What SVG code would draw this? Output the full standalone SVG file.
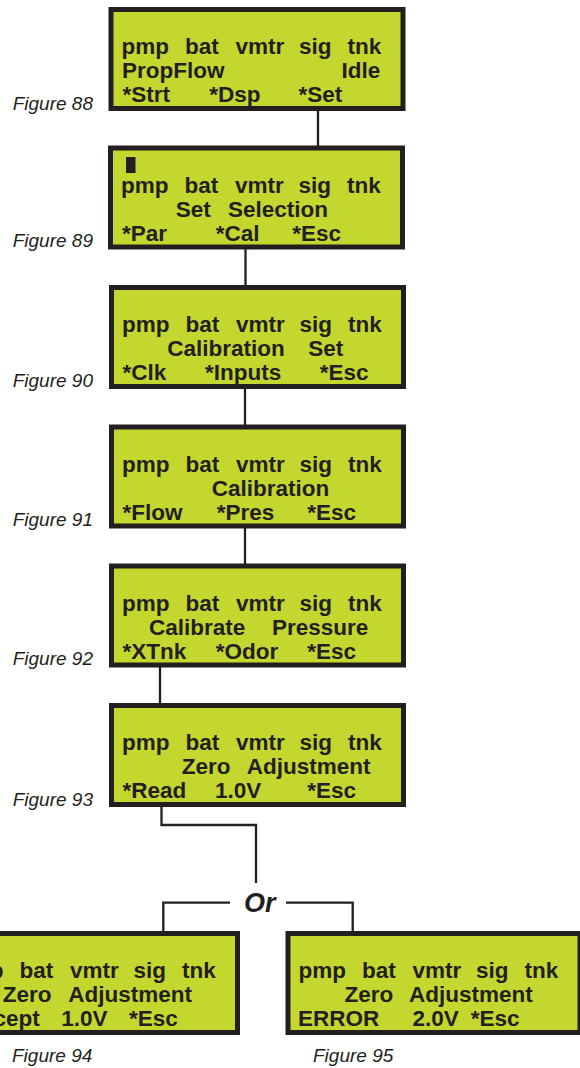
<svg xmlns="http://www.w3.org/2000/svg" width="580" height="1068" viewBox="0 0 580 1068">
<style>
.box{fill:#C4D72F;stroke:#231F20;stroke-width:5}
.t{font-family:"Liberation Sans",Arial,sans-serif;font-weight:bold;font-size:22.5px;fill:#231F20}
.fig{font-family:"Liberation Sans",Arial,sans-serif;font-style:italic;font-size:19px;fill:#231F20}
.or{font-family:"Liberation Sans",Arial,sans-serif;font-style:italic;font-weight:bold;font-size:27px;fill:#231F20}
.c{fill:none;stroke:#231F20;stroke-width:2.3}
</style>
<defs>
<g id="hdr"><text class="t" y="47"><tspan x="13">pmp</tspan><tspan x="76.5">bat</tspan><tspan x="127">vmtr</tspan><tspan x="190.5">sig</tspan><tspan x="239">tnk</tspan></text></g>
</defs>
<g id="connectors">
<line class="c" x1="318" y1="110" x2="318" y2="146"/>
<line class="c" x1="245.5" y1="249" x2="245.5" y2="286"/>
<line class="c" x1="245" y1="389" x2="245" y2="425"/>
<line class="c" x1="245" y1="528" x2="245" y2="564"/>
<line class="c" x1="160" y1="667" x2="160" y2="704"/>
<polyline class="c" points="161.5,806 161.5,825 256,825 256,883"/>
<polyline class="c" points="230,902.7 163.3,902.7 163.3,932"/>
<polyline class="c" points="286,902.7 352.7,902.7 352.7,932"/>
<text class="or" x="259.7" y="911.7" text-anchor="middle">Or</text>
</g>
<g id="fig88" transform="translate(108.5,7)">
<rect class="box" x="2.5" y="2.5" width="292" height="99"/>
<use href="#hdr"/>
<text class="t" y="71"><tspan x="13.5">PropFlow</tspan><tspan x="233">Idle</tspan></text>
<text class="t" y="95"><tspan x="14">*Strt</tspan><tspan x="100.8">*Dsp</tspan><tspan x="190">*Set</tspan></text>
</g>
<g id="fig89" transform="translate(108,145.5)">
<rect class="box" x="2.5" y="2.5" width="292" height="99"/>
<rect x="18" y="11.5" width="9.5" height="16" fill="#231F20"/>
<use href="#hdr"/>
<text class="t" y="71"><tspan x="67.7">Set</tspan><tspan x="120">Selection</tspan></text>
<text class="t" y="95"><tspan x="14">*Par</tspan><tspan x="107.7">*Cal</tspan><tspan x="184.3">*Esc</tspan></text>
</g>
<g id="fig90" transform="translate(109,285)">
<rect class="box" x="2.5" y="2.5" width="292" height="99"/>
<use href="#hdr"/>
<text class="t" y="71"><tspan x="58.3">Calibration</tspan><tspan x="199.3">Set</tspan></text>
<text class="t" y="95"><tspan x="13.5">*Clk</tspan><tspan x="96">*Inputs</tspan><tspan x="210.7">*Esc</tspan></text>
</g>
<g id="fig91" transform="translate(109,424.5)">
<rect class="box" x="2.5" y="2.5" width="292" height="99"/>
<use href="#hdr"/>
<text class="t" y="71"><tspan x="102.7">Calibration</tspan></text>
<text class="t" y="95"><tspan x="13.5">*Flow</tspan><tspan x="107.7">*Pres</tspan><tspan x="198.3">*Esc</tspan></text>
</g>
<g id="fig92" transform="translate(109,563.5)">
<rect class="box" x="2.5" y="2.5" width="292" height="99"/>
<use href="#hdr"/>
<text class="t" y="71"><tspan x="40">Calibrate</tspan><tspan x="163">Pressure</tspan></text>
<text class="t" y="95"><tspan x="13.5">*XTnk</tspan><tspan x="106.7">*Odor</tspan><tspan x="198.3">*Esc</tspan></text>
</g>
<g id="fig93" transform="translate(109,703)">
<rect class="box" x="2.5" y="2.5" width="292" height="99"/>
<use href="#hdr"/>
<text class="t" y="71"><tspan x="72.8">Zero</tspan><tspan x="137.7">Adjustment</tspan></text>
<text class="t" y="95"><tspan x="13.5">*Read</tspan><tspan x="106">1.0V</tspan><tspan x="198.3">*Esc</tspan></text>
</g>
<g id="fig94" transform="translate(-57,931)">
<rect class="box" x="2.5" y="2.5" width="292" height="99"/>
<use href="#hdr"/>
<text class="t" y="71"><tspan x="59.8">Zero</tspan><tspan x="125.3">Adjustment</tspan></text>
<text class="t" y="95"><tspan x="13">*Accept</tspan><tspan x="118.2">1.0V</tspan><tspan x="186">*Esc</tspan></text>
</g>
<g id="fig95" transform="translate(285.5,931)">
<rect class="box" x="2.5" y="2.5" width="292" height="99"/>
<use href="#hdr"/>
<text class="t" y="71"><tspan x="59">Zero</tspan><tspan x="123.5">Adjustment</tspan></text>
<text class="t" y="95"><tspan x="12.5">ERROR</tspan><tspan x="127">2.0V</tspan><tspan x="185.2">*Esc</tspan></text>
</g>
<g id="labels">
<text class="fig" x="93" y="110" text-anchor="end">Figure 88</text>
<text class="fig" x="93" y="247" text-anchor="end">Figure 89</text>
<text class="fig" x="93" y="387" text-anchor="end">Figure 90</text>
<text class="fig" x="93" y="526" text-anchor="end">Figure 91</text>
<text class="fig" x="93" y="665" text-anchor="end">Figure 92</text>
<text class="fig" x="93" y="806" text-anchor="end">Figure 93</text>
<text class="fig" x="12" y="1062">Figure 94</text>
<text class="fig" x="313" y="1062">Figure 95</text>
</g>
</svg>
